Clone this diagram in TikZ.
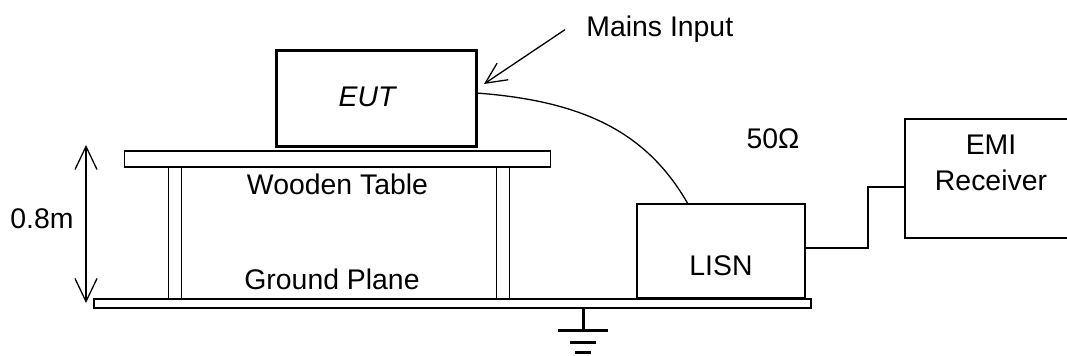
\documentclass[tikz,border=0pt]{standalone}
\usepackage{fontspec}
\setmainfont{Liberation Sans}
\usetikzlibrary{positioning,arrows.meta}
\tikzset{box/.style={draw,rectangle,inner sep=0pt,outer sep=0pt,line width=0.65pt},
         lbl/.style={inner sep=0pt,font=\fontsize{14.2}{18}\selectfont},
         wire/.style={line width=0.65pt},
         feed/.style={line width=0.65pt,-{Straight Barb[length=10.5pt,width=10pt]}},
         dim/.style={line width=0.65pt,{Straight Barb[length=11.5pt,width=11pt]}-{Straight Barb[length=11.5pt,width=11pt]}},
         earth/.style={line width=1.5pt}}

\begin{document}
\begin{tikzpicture}[x=0.5pt,y=-0.5pt]
  \useasboundingbox (0,0) rectangle (1067,356);
  % table, legs and ground plane
  \node[box,minimum width=213pt,minimum height=8pt] (table) at (337.5,159) {};
  \node[box,minimum width=6.5pt,minimum height=66pt] (legl) at (175,233) {};
  \node[box,minimum width=6.5pt,minimum height=66pt] (legr) at (503,233) {};
  \node[box,minimum width=358.5pt,minimum height=4.5pt] (ground) at (452.5,303.5) {};
  \node[lbl] (tablelbl) [below=3.5pt of table] {Wooden Table};
  \node[lbl,anchor=base] (gplbl) at (332,290) {Ground Plane};
  % equipment
  \node[box,line width=1.5pt,minimum width=100pt,minimum height=48pt] (eut) at (376,99) {};
  \node[lbl,anchor=base] (eutlbl) at (367,107) {\itshape EUT};
  \node[box,minimum width=84pt,minimum height=47pt] (lisn) at (721,251) {};
  \node[lbl] (lisnlbl) [above=11pt of lisn.south] {LISN};
  \node[box,minimum width=86pt,minimum height=59.5pt] (rx) at (991,178.5) {};
  \node[lbl,align=center] (rxlbl) at (991,163) {EMI\\Receiver};
  \node[lbl,anchor=base] (ohm) at (773,149) {50Ω};
  \node[lbl,inner xsep=10.5pt,anchor=base west] (mains) at (565,37) {Mains Input};
  \coordinate (mainsin) at (484,84);
  % height of the table
  \coordinate (dimtop) at (86,145);
  \coordinate (dimbot) at (86,303);
  \node[lbl,anchor=base] (height) at (42,229) {0.8m};
  % connections
  \draw[feed] (mains.west) -- (mainsin);
  \draw[dim] (dimbot) -- (dimtop);
  \draw[wire] ([yshift=3pt]eut.east) .. controls +(110,8) and +(-40,-70) .. ([xshift=-16.5pt]lisn.north);
  \draw[wire] ([yshift=1.5pt]lisn.east) -- ++(63,0) |- ([yshift=-4.25pt]rx.west);
  % earth symbol
  \coordinate (gnd) at (583,331);
  \draw[earth] (gnd |- ground.south) -- (gnd);
  \draw[earth] (gnd) ++(-25,0) -- ++(50,0);
  \draw[earth] (gnd) ++(-13,12) -- ++(26,0);
  \draw[earth] (gnd) ++(-8,22) -- ++(16,0);
\end{tikzpicture}
\end{document}
